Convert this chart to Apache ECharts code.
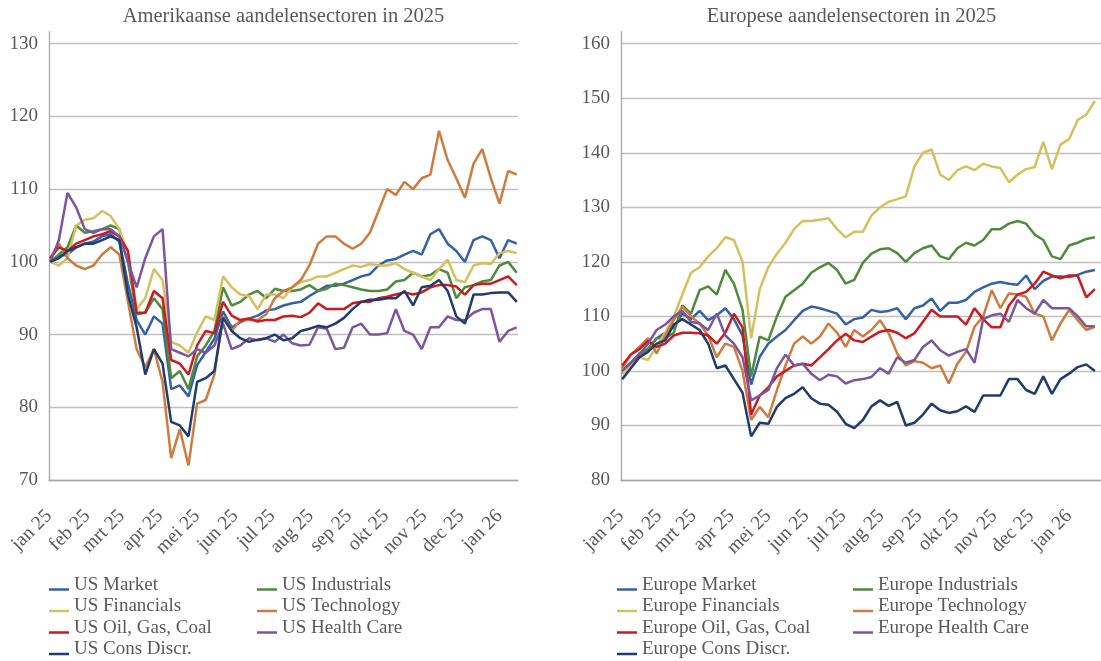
<!DOCTYPE html>
<html>
<head>
<meta charset="utf-8">
<script src="https://cdn.jsdelivr.net/npm/echarts@6/dist/echarts.min.js"></script>
<style>
  html, body { margin: 0; padding: 0; background: #fff; }
  #chart { width: 1101px; height: 661px; }
</style>
</head>
<body>
<div id="chart"></div>
<script>
// weekly index values (start 2025 = 100), first point 2 jan, then every 7 days
const usMarket = [100, 100.8, 101, 102, 102.5, 102.8, 103.5, 103.8, 102.8, 97,
  92, 90, 92.5, 91.5, 82.5, 83, 81.5, 85.8, 87.6, 89.4,
  93.2, 91, 91.7, 92.2, 92.6, 93.3, 93.5, 94, 94.3, 94.5,
  95.3, 96, 96.7, 96.7, 97, 97.5, 98, 98.3, 99.5, 100.2,
  100.4, 101, 101.5, 101, 103.8, 104.5, 102.5, 101.5, 100, 103,
  103.5, 103, 100.5, 103, 102.5];
const usIndustrials = [100, 101, 102, 105, 104, 104.2, 104.5, 105, 104.5, 100,
  92.8, 93, 95, 93.5, 84, 85, 82.5, 87, 88.5, 90.5,
  96.5, 94, 94.5, 95.5, 96, 95, 96.3, 96, 96, 96.2,
  96.8, 96, 96.3, 97, 96.8, 96.5, 96.2, 96, 96, 96.2,
  97.3, 97.5, 98.5, 98, 98.2, 99, 98.5, 95, 96.5, 96.8,
  97.3, 97.5, 99.5, 100, 98.5];
const usFinancials = [100, 99.5, 100.5, 105, 105.8, 106, 107, 106.3, 104.5, 101,
  93.5, 95, 99, 97.5, 89, 88.5, 87.5, 90.3, 92.5, 92,
  98, 96.5, 95.5, 95.3, 93.5, 95.5, 95.5, 95, 96.5, 97.2,
  97.5, 98, 98, 98.5, 99, 99.5, 99.3, 99.7, 99.5, 99.5,
  99.8, 99, 98.5, 98, 97.5, 99, 100.3, 97.5, 97.2, 99.5,
  99.8, 99.7, 101.2, 101.5, 101.2];
const usTechnology = [100.5, 102.5, 100.5, 99.5, 99, 99.5, 101, 102, 101, 94.5,
  88, 85.5, 88, 83.5, 73, 77, 72, 80.5, 81, 84.5,
  92.5, 90.5, 92, 92, 92, 92.8, 95, 96, 96.5, 97.5,
  99.5, 102.5, 103.5, 103.5, 102.5, 101.8, 102.5, 104, 107, 110,
  109.2, 111, 110, 111.5, 112, 118, 114, 111.5, 108.8, 113.5,
  115.5, 111.5, 108, 112.5, 112];
const usOil = [100.5, 102, 101.5, 102.5, 103, 103.5, 103.8, 104.2, 103.5, 101.5,
  93, 93, 96, 95, 86.5, 86, 84.5, 88.5, 90.5, 90.2,
  94.5, 92.6, 92, 92.2, 91.8, 92, 92, 92.5, 92.6, 92.4,
  93, 94.3, 93.5, 93.5, 93.5, 94.3, 94.5, 94.5, 95, 95.2,
  95.5, 95.8, 95.5, 95.8, 96.5, 96.8, 96.8, 96.6, 95.5, 96.8,
  97, 97, 97.5, 98, 96.8];
const usHealth = [100, 103, 109.5, 107.5, 104.5, 104, 104.5, 104.5, 103.5, 100,
  96.5, 100.5, 103.5, 104.5, 88, 87.5, 87, 88, 87.5, 88.5,
  91.5, 88, 88.5, 89.5, 89.2, 89.5, 89, 90, 88.8, 88.5,
  88.6, 91, 90.8, 88, 88.2, 91, 91.5, 90, 90, 90.2,
  93.5, 90.5, 90, 88, 91, 91, 92.5, 92, 92, 93,
  93.5, 93.5, 89, 90.5, 91];
const usCons = [100, 100.5, 101.5, 102, 102.5, 102.5, 103, 103.5, 103, 95.5,
  91, 84.5, 88, 86, 78, 77.5, 76, 83.5, 84, 85,
  92.3, 90.5, 89.5, 89, 89.3, 89.5, 90, 89.2, 89.5, 90.5,
  90.8, 91.2, 91, 91.5, 92.3, 93.5, 94.5, 94.8, 94.8, 95,
  95, 96, 94, 96.5, 96.7, 97.5, 96, 92.5, 91.5, 95.5,
  95.5, 95.7, 95.8, 95.8, 94.5];

const euMarket = [99.5, 101.3, 103.2, 104, 106, 107, 108, 110.5, 109.5, 111,
  109.3, 110.2, 111.5, 109.5, 106.5, 97.5, 102.6, 105, 106.3, 107.5,
  109.3, 111, 111.8, 111.5, 111, 110.5, 108.5, 109.5, 109.8, 111.2,
  110.8, 111, 111.5, 109.5, 111.5, 112, 113.3, 111, 112.5, 112.5,
  113, 114.5, 115.3, 116, 116.3, 116, 115.8, 117.5, 115, 116.5,
  117.3, 117.3, 117.2, 117.6, 118.2, 118.5];
const euIndustrials = [100, 101.5, 103, 104, 106, 106, 107, 112, 110.5, 114.8,
  115.5, 114, 118.5, 116, 111.2, 99, 106.3, 105.6, 110, 113.6,
  114.8, 116, 118, 119, 119.8, 118.5, 116, 116.7, 119.8, 121.5,
  122.3, 122.5, 121.6, 120, 121.6, 122.5, 123, 121, 120.5, 122.5,
  123.5, 123, 124, 126, 126, 127, 127.5, 127, 125, 124,
  121, 120.5, 123, 123.5, 124.2, 124.5];
const euFinancials = [99.5, 101, 102.5, 102, 104.5, 107, 110, 114, 118, 119,
  121, 122.5, 124.5, 124, 120, 106, 115, 119, 121.5, 123.5,
  126, 127.5, 127.5, 127.7, 128, 126, 124.5, 125.5, 125.5, 128.5,
  130, 131, 131.5, 132, 137.5, 140, 140.6, 136, 135, 136.8,
  137.5, 136.8, 138, 137.5, 137.2, 134.6, 136, 137, 137.4, 142,
  137, 141.5, 142.5, 146, 147, 149.5];
const euTechnology = [100.5, 103, 104.4, 106, 103.2, 106.5, 109.3, 111.8, 110, 108.7,
  106.5, 102.5, 105, 104.4, 100, 91, 93.4, 91.5, 96.5, 101,
  105, 106.3, 105, 106.3, 108.7, 107, 104.4, 107.5, 106.3, 107.5,
  109.3, 106.9, 103.2, 101, 101.8, 101.5, 100.5, 101, 97.7, 101.3,
  103.5, 108.1, 110, 114.8, 111.5, 114.2, 114, 113.6, 110.5, 110,
  105.6, 108.7, 111.2, 109.3, 107.5, 108.1];
const euOil = [101, 103, 104, 105.5, 104.4, 105, 106.5, 107, 107, 106.9,
  106.5, 105, 107, 110.5, 108, 92, 95.5, 97, 99, 100,
  101, 101.3, 101, 102.5, 104, 105.6, 106.8, 105.6, 105.3, 106.3,
  107.2, 107.5, 107, 106, 106.9, 109, 111.2, 110, 110, 110,
  108.5, 111.5, 109.5, 108, 108, 112, 114, 114.5, 116, 118.2,
  117.5, 117, 117.5, 117.5, 113.5, 115];
const euHealth = [100, 101.5, 103, 105, 107.5, 108.5, 110, 111, 109, 108.7,
  107.5, 110.5, 106.5, 105, 102.5, 94.6, 95.5, 96.5, 100.5, 103,
  101, 101.3, 99.5, 98.3, 99.3, 99, 97.7, 98.3, 98.5, 98.9,
  100.5, 99.5, 102.5, 101.5, 102, 104.4, 105.6, 103.8, 102.8, 103.5,
  104, 101.5, 109.5, 110.2, 110.5, 109, 113, 111.5, 110.5, 113,
  111.5, 111.5, 111.5, 110, 108.2, 108.2];
const euCons = [98.5, 100.5, 102.5, 103.5, 105, 105.6, 108.5, 109.5, 108.5, 107.5,
  105, 100.5, 101, 98.5, 96, 88, 90.5, 90.3, 93.4, 95,
  95.8, 97, 95, 94, 93.8, 92.5, 90.3, 89.5, 91, 93.5,
  94.6, 93.6, 94.3, 90, 90.5, 92, 94, 92.8, 92.3, 92.6,
  93.5, 92.5, 95.5, 95.5, 95.5, 98.5, 98.5, 96.5, 95.8, 99,
  95.8, 98.5, 99.5, 100.7, 101.2, 100];

const usNames = ['US Market', 'US Industrials', 'US Financials', 'US Technology',
  'US Oil, Gas, Coal', 'US Health Care', 'US Cons Discr.'];
const euNames = ['Europe Market', 'Europe Industrials', 'Europe Financials', 'Europe Technology',
  'Europe Oil, Gas, Coal', 'Europe Health Care', 'Europe Cons Discr.'];
const colors = ['#3561A6', '#4E8B3B', '#D6C05E', '#CD7B3F', '#CC1A1E', '#7B569F', '#203C6C'];
const monthNames = ['jan', 'feb', 'mrt', 'apr', 'mei', 'jun', 'jul', 'aug', 'sep', 'okt', 'nov', 'dec'];

const FONT = 'Liberation Serif';
const TXT = '#595959';

// one category per calendar day from 1 jan 2025
function dayList(n) {
  const out = [];
  for (let i = 0; i < n; i++) {
    out.push(new Date(Date.UTC(2025, 0, 1 + i)).toISOString().slice(0, 10));
  }
  return out;
}
const usDays = dayList(381);
const euDays = dayList(392);

function lineSeries(name, values, color, idx, days) {
  return {
    name: name,
    type: 'line',
    xAxisIndex: idx,
    yAxisIndex: idx,
    data: values.map((v, k) => [days[1 + 7 * k], v]),
    showSymbol: false,
    symbol: 'none',
    lineStyle: { width: 2.5, color: color },
    itemStyle: { color: color },
    silent: true
  };
}

function xAxis(idx, days) {
  return {
    type: 'category',
    gridIndex: idx,
    data: days,
    boundaryGap: false,
    axisLine: { lineStyle: { color: '#A6A6A6', width: 1.3 } },
    axisTick: { show: false },
    splitLine: { show: false },
    axisLabel: {
      interval: (i, v) => v.slice(8) === '01',
      rotate: 45,
      margin: 33,
      color: TXT,
      fontFamily: FONT,
      fontSize: 19.5,
      formatter: v => monthNames[+v.slice(5, 7) - 1] + ' ' + v.slice(2, 4)
    }
  };
}

function yAxis(idx, min, max) {
  return {
    type: 'value',
    gridIndex: idx,
    min: min,
    max: max,
    interval: 10,
    axisLine: { show: true, lineStyle: { color: '#A6A6A6', width: 1.3 } },
    axisTick: { show: false },
    axisLabel: {
      showMaxLabel: false,
      margin: 11,
      color: TXT,
      fontFamily: FONT,
      fontSize: 19,
      formatter: v => (v % 10 === 0 ? String(v) : '')
    },
    splitLine: { showMaxLine: false, lineStyle: { color: '#BFBFBF', width: 1.3 } }
  };
}

function legend(names, left) {
  return {
    orient: 'vertical',
    left: left,
    top: 575.5,
    padding: 0,
    itemGap: 2.5,
    itemWidth: 20,
    itemHeight: 11.5,
    icon: 'path://M0,0M0,9L20,9L20,11.5L0,11.5Z',
    itemStyle: { borderWidth: 0 },
    selectedMode: false,
    textStyle: { fontFamily: FONT, fontSize: 19, lineHeight: 19, color: TXT },
    data: names
  };
}

const usValues = [usMarket, usIndustrials, usFinancials, usTechnology, usOil, usHealth, usCons];
const euValues = [euMarket, euIndustrials, euFinancials, euTechnology, euOil, euHealth, euCons];

const series = [];
usValues.forEach((vals, i) => series.push(lineSeries(usNames[i], vals, colors[i], 0, usDays)));
euValues.forEach((vals, i) => series.push(lineSeries(euNames[i], vals, colors[i], 1, euDays)));

const chart = echarts.init(document.getElementById('chart'), null, { renderer: 'canvas' });
chart.setOption({
  animation: false,
  backgroundColor: '#fff',
  grid: [
    { left: 49, right: 583, top: 31.7, bottom: 181 },
    { left: 621, right: 0, top: 31.7, bottom: 181 }
  ],
  xAxis: [xAxis(0, usDays), xAxis(1, euDays)],
  yAxis: [yAxis(0, 70, 131.65), yAxis(1, 80, 162.2)],
  legend: [
    legend([usNames[0], usNames[2], usNames[4], usNames[6]], 49),
    legend([usNames[1], usNames[3], usNames[5]], 257),
    legend([euNames[0], euNames[2], euNames[4], euNames[6]], 617),
    legend([euNames[1], euNames[3], euNames[5]], 853)
  ],
  graphic: [
    { type: 'text', x: 283.5, y: 17, style: { text: 'Amerikaanse aandelensectoren in 2025', font: '20.5px "Liberation Serif"', fill: TXT, align: 'center', verticalAlign: 'middle' } },
    { type: 'text', x: 851.5, y: 17, style: { text: 'Europese aandelensectoren in 2025', font: '20.5px "Liberation Serif"', fill: TXT, align: 'center', verticalAlign: 'middle' } }
  ],
  series: series
});
</script>
</body>
</html>
